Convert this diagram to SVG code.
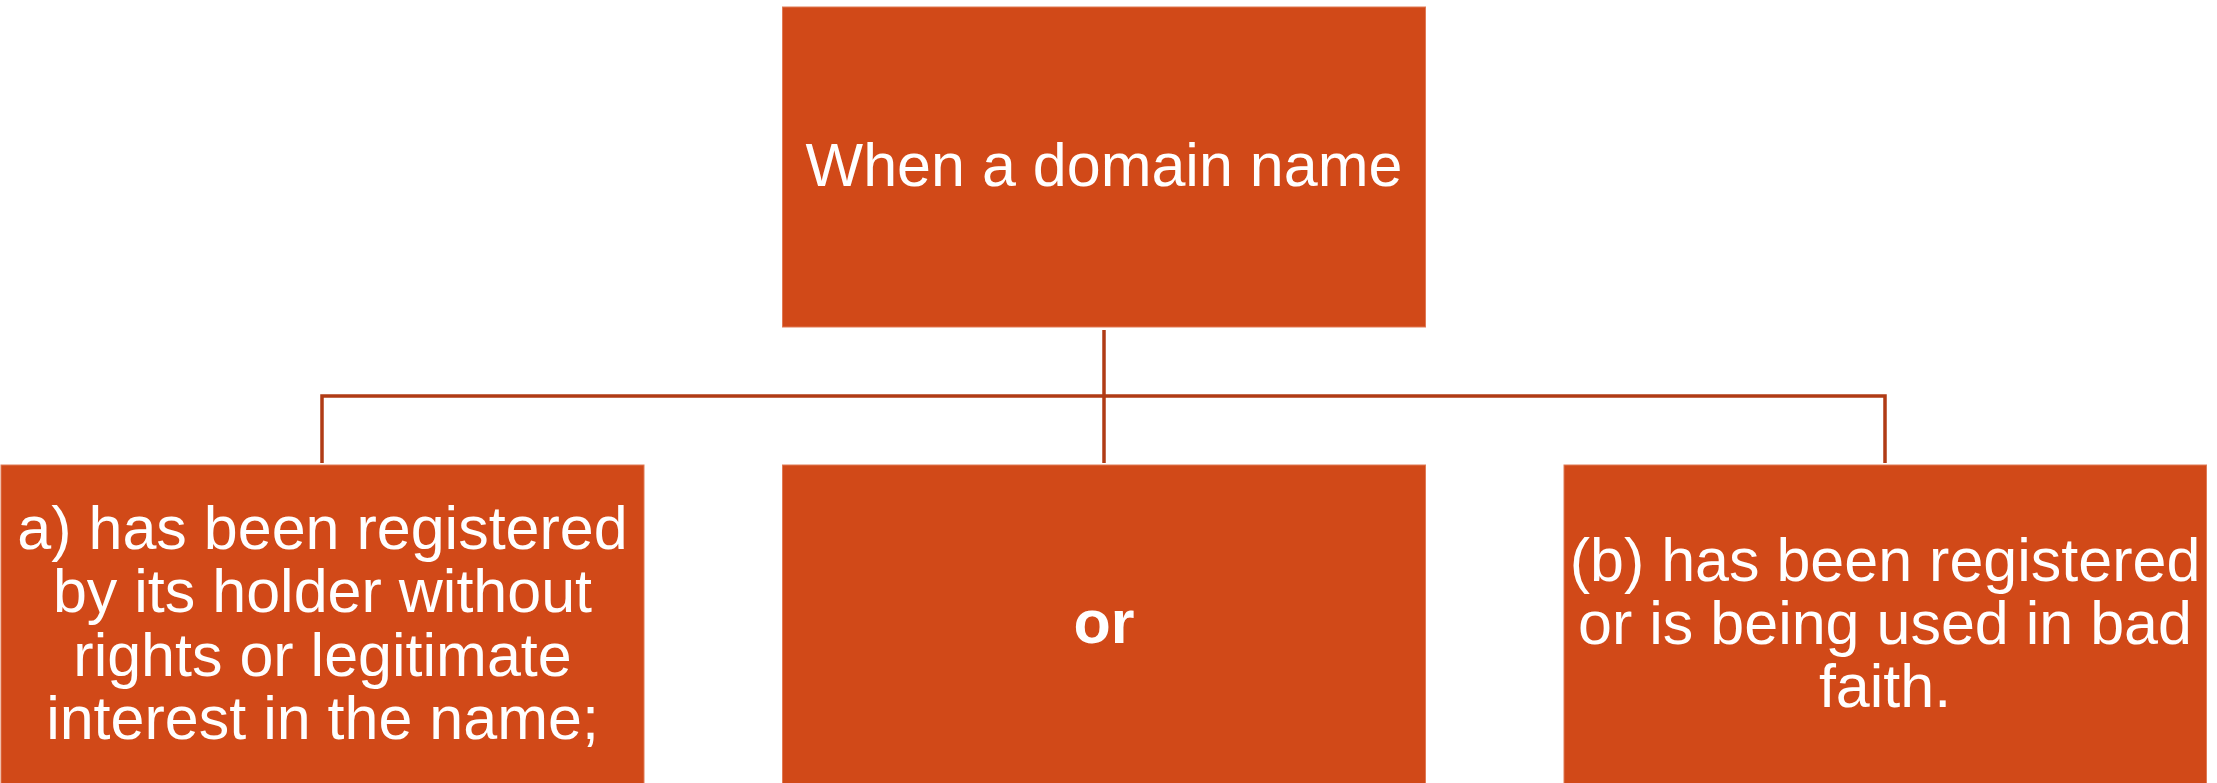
<svg xmlns="http://www.w3.org/2000/svg" width="2217" height="783" viewBox="0 0 2217 783">
<style>
.box{fill:#D14918;stroke:#E07A55;stroke-width:1}
.lbl{fill:#FFFFFF;font-family:"Liberation Sans",Arial,sans-serif;font-size:61px;text-anchor:middle}
.bold{font-weight:bold;font-size:61px}
.conn{fill:none;stroke:#B03B15;stroke-width:3.5}
</style>
<rect width="2217" height="783" fill="#FFFFFF"/>
<g id="connectors">
<line class="conn" x1="1104" y1="330" x2="1104" y2="463"/>
<polyline class="conn" points="322,463 322,396 1885,396 1885,463"/>
</g>
<g id="node-top">
<rect class="box" x="782.5" y="7" width="643" height="320"/>
<text class="lbl" x="1104" y="186">When a domain name</text>
</g>
<g id="node-a">
<rect class="box" x="1" y="465" width="643" height="320"/>
<text class="lbl" x="322.5" y="549">a) has been registered</text>
<text class="lbl" x="322.5" y="612">by its holder without</text>
<text class="lbl" x="322.5" y="676">rights or legitimate</text>
<text class="lbl" x="322.5" y="739">interest in the name;</text>
</g>
<g id="node-or">
<rect class="box" x="782.5" y="465" width="643" height="320"/>
<text class="lbl bold" x="1104" y="643">or</text>
</g>
<g id="node-b">
<rect class="box" x="1564" y="465" width="642.5" height="320"/>
<text class="lbl" x="1885" y="581">(b) has been registered</text>
<text class="lbl" x="1885" y="644">or is being used in bad</text>
<text class="lbl" x="1885" y="707">faith.</text>
</g>
</svg>
